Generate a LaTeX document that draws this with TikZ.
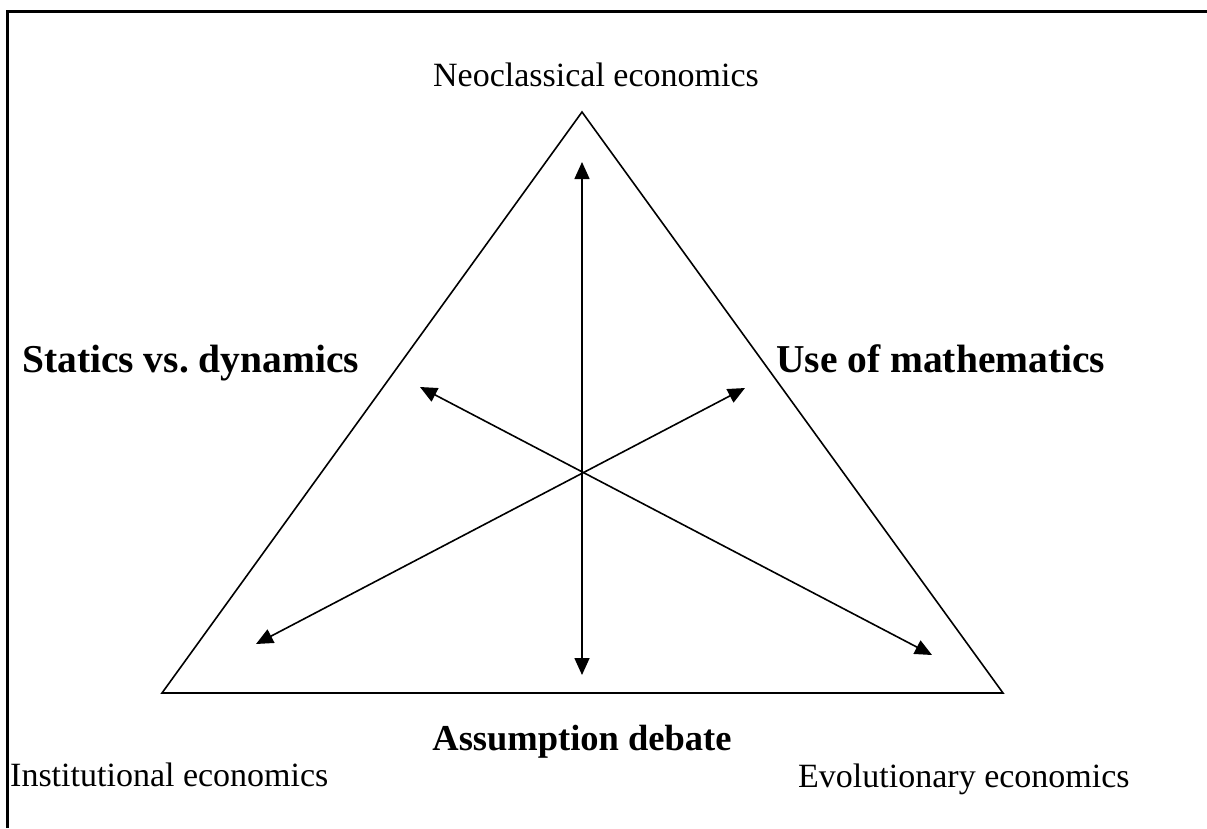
\documentclass[tikz,border=0pt]{standalone}
\usepackage{fontspec}
\setmainfont{Liberation Serif}
\usetikzlibrary{arrows.meta}
\frenchspacing
\begin{document}
\begin{tikzpicture}[x=1pt,y=-1pt,
  reg/.style={inner sep=0pt,font=\fontsize{34}{40}\selectfont},
  bld/.style={inner sep=0pt,font=\fontsize{39.5}{46}\selectfont\bfseries},
  bldsm/.style={inner sep=0pt,font=\fontsize{36.5}{42}\selectfont\bfseries},
  frame/.style={line width=3pt},
  tri/.style={line width=1.6pt,line join=miter},
  dbl/.style={line width=1.6pt,{Triangle[length=17pt,width=15pt]}-{Triangle[length=17pt,width=15pt]}}]
\useasboundingbox (0,0) rectangle (1207,828);
\fill[white] (0,0) rectangle (1207,828);
% frame
\draw[frame] (7,828) -- (7,11) -- (1207,11);
% triangle
\coordinate (A) at (582,112);
\coordinate (B) at (162,693);
\coordinate (C) at (1003,693);
\draw[tri] (A) -- (B) -- (C) -- cycle;
% arrow end points
\coordinate (vt) at (582,162);
\coordinate (vb) at (582,675);
\coordinate (ul) at (420,387);
\coordinate (lr) at (932,655);
\coordinate (ll) at (256,644);
\coordinate (ur) at (745,388);
\draw[dbl] (vt) -- (vb);
\draw[dbl] (ul) -- (lr);
\draw[dbl] (ll) -- (ur);
% labels
\node[reg,anchor=base] (neo) at (596,86) {Neoclassical economics};
\node[bld,anchor=base west] (stat) at (22,372) {Statics vs. dynamics};
\node[bld,anchor=base west] (math) at (776,372) {Use of mathematics};
\node[bldsm,anchor=base] (ass) at (582,750) {Assumption debate};
\node[reg,anchor=base west] (inst) at (10,786) {Institutional economics};
\node[reg,anchor=base west] (evo) at (798,787) {Evolutionary economics};
\end{tikzpicture}
\end{document}
